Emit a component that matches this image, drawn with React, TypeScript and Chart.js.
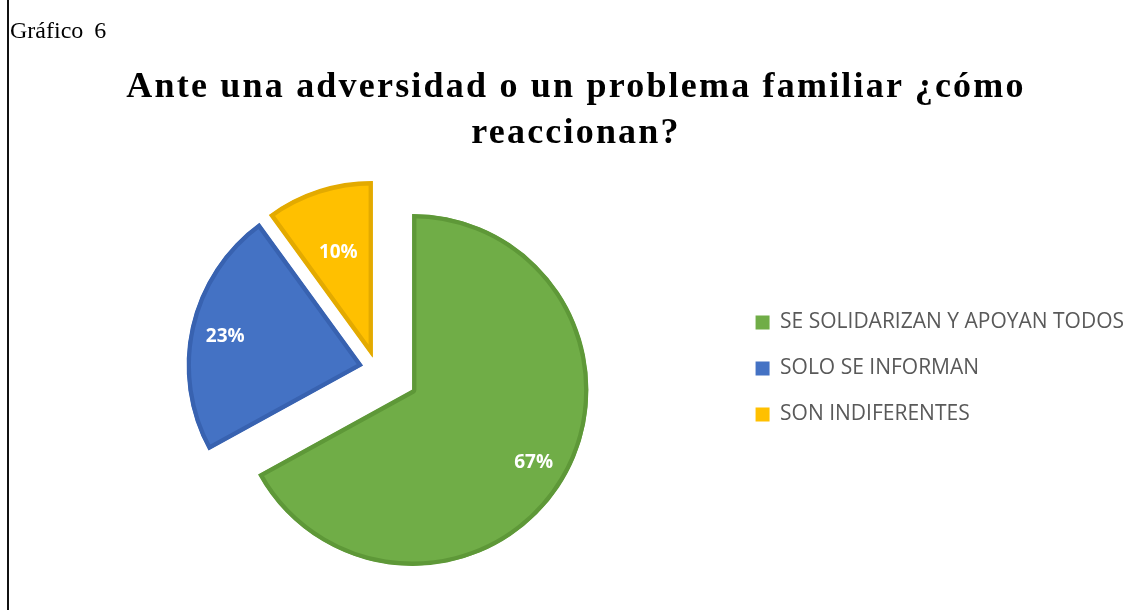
import React, { useEffect, useRef } from "react";
import { Chart, registerables } from "chart.js";

Chart.register(...registerables);

const categories = [
  "SE SOLIDARIZAN Y APOYAN TODOS",
  "SOLO SE INFORMAN",
  "SON INDIFERENTES",
];
const values = [67, 23, 10];
const fillColors = ["#70AD47", "#4472C4", "#FFC000"];
const edgeColors = ["#5E9838", "#3862B0", "#E3AA00"];
const explode = [42, 14, 12];
const labelRadiusRatio = [0.8, 0.8, 0.63];
const figureLabel = "Gráfico 6";
const titleLines = ["Ante una adversidad o un problema familiar ¿cómo", "reaccionan?"];

const explodePlugin = {
  id: "explodeSlices",
  beforeDatasetDraw(chart: any, args: any) {
    const meta = args.meta;
    meta.data.forEach((arc: any, i: number) => {
      if (arc.__exploded) return;
      const orig = arc.draw;
      arc.draw = function (ctx: CanvasRenderingContext2D, area: any) {
        const d = explode[i] || 0;
        const half = (this.startAngle + this.endAngle) / 2;
        ctx.save();
        ctx.translate(Math.cos(half) * d, Math.sin(half) * d);
        orig.call(this, ctx, area);
        ctx.restore();
      };
      arc.__exploded = true;
    });
  },
};

const LABEL_SIZE = 19;

const labelPlugin = {
  id: "sliceLabels",
  afterDatasetsDraw(chart: any) {
    const ctx: CanvasRenderingContext2D = chart.ctx;
    const meta = chart.getDatasetMeta(0);
    const total = values.reduce((a, b) => a + b, 0);
    ctx.save();
    ctx.fillStyle = "#FFFFFF";
    ctx.font = `bold ${LABEL_SIZE}px 'Open Sans'`;
    ctx.textAlign = "center";
    ctx.textBaseline = "alphabetic";
    meta.data.forEach((arc: any, i: number) => {
      const { x, y, startAngle, endAngle, outerRadius } = arc.getProps(
        ["x", "y", "startAngle", "endAngle", "outerRadius"],
        true
      );
      const mid = (startAngle + endAngle) / 2;
      const d = explode[i] || 0;
      const r = outerRadius * labelRadiusRatio[i];
      const px = x + Math.cos(mid) * (r + d);
      const py = y + Math.sin(mid) * (r + d);
      ctx.fillText(
        Math.round((values[i] / total) * 100) + "%",
        px,
        py + LABEL_SIZE * 0.36
      );
    });
    ctx.restore();
  },
};

export default function App() {
  const canvasRef = useRef<HTMLCanvasElement | null>(null);

  useEffect(() => {
    if (!canvasRef.current) return;
    const chart = new Chart(canvasRef.current, {
      type: "pie",
      data: {
        labels: categories,
        datasets: [
          {
            data: values,
            backgroundColor: fillColors,
            borderColor: edgeColors,
            borderWidth: 4,
            borderAlign: "inner",
            radius: 176,
          } as any,
        ],
      },
      options: {
        responsive: false,
        animation: false,
        events: [],
        layout: { padding: { left: 22, right: 1, top: 149, bottom: 22 } },
        plugins: {
          title: { display: false },
          tooltip: { enabled: false },
          legend: {
            position: "right",
            labels: {
              boxWidth: 14,
              boxHeight: 14,
              padding: 25,
              color: "#595959",
              font: { family: "'Open Sans'", size: 21 },
              generateLabels: () =>
                categories.map((text, i) => ({
                  text,
                  fillStyle: fillColors[i],
                  strokeStyle: fillColors[i],
                  lineWidth: 0,
                  hidden: false,
                  index: i,
                  fontColor: "#595959",
                })),
            },
          },
        },
      },
      plugins: [explodePlugin, labelPlugin],
    });
    return () => chart.destroy();
  }, []);

  return (
    <div
      style={{
        position: "fixed",
        left: 0,
        top: 0,
        width: 1135,
        height: 610,
        background: "#FFFFFF",
        overflow: "hidden",
      }}
    >
      <canvas
        ref={canvasRef}
        width={1135}
        height={610}
        style={{ position: "absolute", left: 0, top: 0, width: 1135, height: 610 }}
      />
      <div
        style={{
          position: "absolute",
          left: 7,
          top: 0,
          width: 2,
          height: 610,
          background: "#111111",
        }}
      />
      <div
        style={{
          position: "absolute",
          left: 10,
          top: 18,
          fontFamily: "'Liberation Serif', serif",
          fontSize: 24,
          lineHeight: "24px",
          wordSpacing: 5,
          color: "#000000",
          whiteSpace: "nowrap",
        }}
      >
        {figureLabel}
      </div>
      <div
        style={{
          position: "absolute",
          left: 0,
          top: 62,
          width: 1152,
          textAlign: "center",
          fontFamily: "'Liberation Serif', serif",
          fontWeight: "bold",
          fontSize: 36,
          lineHeight: "46px",
          letterSpacing: 2.2,
          color: "#000000",
        }}
      >
        {titleLines.map((t, i) => (
          <div key={i}>{t}</div>
        ))}
      </div>
    </div>
  );
}
